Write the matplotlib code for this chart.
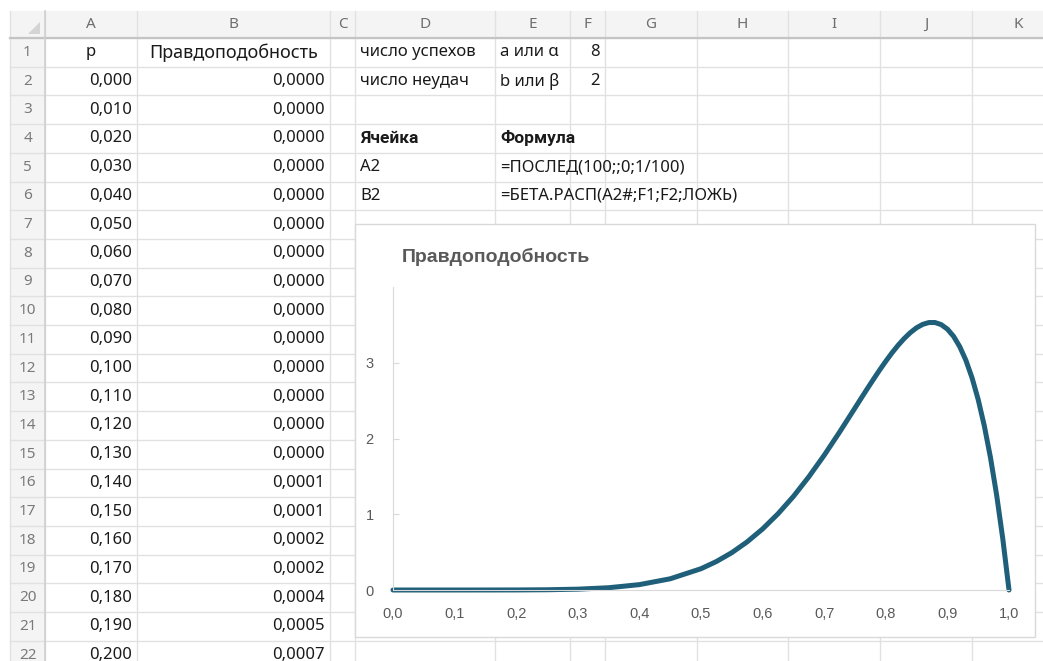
# -*- coding: utf-8 -*-
# Лист с таблицей бета-распределения и графиком правдоподобности
import matplotlib
matplotlib.use('Agg')
from matplotlib import pyplot as plt
from matplotlib.patches import Rectangle, Polygon

plt.rcParams['font.family'] = ['Noto Sans', 'DejaVu Sans']

# параметры распределения (F1, F2)
alfa = 8
beta = 2

# столбец A: p, строки 2..22
p_tabla = [0.000, 0.010, 0.020, 0.030, 0.040, 0.050, 0.060, 0.070, 0.080, 0.090,
           0.100, 0.110, 0.120, 0.130, 0.140, 0.150, 0.160, 0.170, 0.180, 0.190,
           0.200]
# столбец B: правдоподобность
verosim_tabla = [0.0000, 0.0000, 0.0000, 0.0000, 0.0000, 0.0000, 0.0000, 0.0000,
                 0.0000, 0.0000, 0.0000, 0.0000, 0.0000, 0.0000, 0.0001, 0.0001,
                 0.0002, 0.0002, 0.0004, 0.0005, 0.0007]

# точки кривой на графике
x_curva = [0.0, 0.05, 0.1, 0.15, 0.2, 0.25, 0.3, 0.35, 0.4, 0.45, 0.5, 0.525,
           0.55, 0.575, 0.6, 0.625, 0.65, 0.675, 0.7, 0.725, 0.75, 0.76, 0.77,
           0.78, 0.79, 0.8, 0.81, 0.82, 0.83, 0.84, 0.85, 0.86, 0.87, 0.88,
           0.89, 0.9, 0.91, 0.92, 0.93, 0.94, 0.95, 0.96, 0.97, 0.98, 0.99, 1.0]
y_curva = [0.0, 0.0, 0.0, 0.0001, 0.0007, 0.0033, 0.011, 0.030, 0.071, 0.148,
           0.281, 0.376, 0.493, 0.636, 0.806, 1.006, 1.235, 1.494, 1.779, 2.085,
           2.403, 2.531, 2.658, 2.782, 2.904, 3.020, 3.130, 3.231, 3.321, 3.399,
           3.462, 3.507, 3.531, 3.531, 3.503, 3.444, 3.349, 3.213, 3.033, 2.801,
           2.514, 2.164, 1.745, 1.250, 0.671, 0.0]

x_ticks = [0.0, 0.1, 0.2, 0.3, 0.4, 0.5, 0.6, 0.7, 0.8, 0.9, 1.0]
y_ticks = [0, 1, 2, 3]

columnas = ['', 'A', 'B', 'C', 'D', 'E', 'F', 'G', 'H', 'I', 'J', 'K']
bordes_col = [10, 45, 137, 330, 355, 495, 570, 605, 697, 788, 880, 972, 1064]

ANCHO, ALTO = 1043, 661
Y_CAB = 11          # верх строки заголовков
Y_FILA1 = 38        # верх первой строки
H_FILA = 28.7
N_FILAS = 22

GRIS_REJILLA = '#e1e1e1'
GRIS_CAB = '#f4f4f4'
TEXTO = '#1a1a1a'


def fila_centro(n):
    return Y_FILA1 + (n - 1) * H_FILA + H_FILA / 2


def celda(col, fila, texto, ha='left', **kw):
    i = columnas.index(col)
    if ha == 'left':
        x = bordes_col[i] + 5
    elif ha == 'right':
        x = bordes_col[i + 1] - 5
    else:
        x = (bordes_col[i] + bordes_col[i + 1]) / 2
    kw.setdefault('fontsize', 12)
    ax.text(x, fila_centro(fila), texto, ha=ha, va='center', color=TEXTO, **kw)


def coma(v, dec):
    return f'{v:.{dec}f}'.replace('.', ',')


fig = plt.figure(figsize=(ANCHO / 100, ALTO / 100), dpi=100)
ax = fig.add_axes([0, 0, 1, 1])
ax.set_xlim(0, ANCHO)
ax.set_ylim(ALTO, 0)
ax.axis('off')

# фон заголовков
ax.add_patch(Rectangle((bordes_col[0], Y_CAB), ANCHO, Y_FILA1 - Y_CAB,
                       facecolor=GRIS_CAB, edgecolor='none'))
ax.add_patch(Rectangle((bordes_col[0], Y_FILA1), bordes_col[1] - bordes_col[0],
                       ALTO, facecolor=GRIS_CAB, edgecolor='none'))

# сетка
for x in bordes_col:
    ax.plot([x, x], [Y_CAB, ALTO], color=GRIS_REJILLA, lw=1)
for n in range(N_FILAS + 1):
    y = Y_FILA1 + n * H_FILA
    ax.plot([bordes_col[0], ANCHO], [y, y], color=GRIS_REJILLA, lw=1)
ax.plot([bordes_col[0], ANCHO], [Y_FILA1, Y_FILA1], color='#c4c4c4', lw=1.6)
ax.plot([bordes_col[1], bordes_col[1]], [Y_CAB, ALTO], color='#d0d0d0', lw=1.2)
ax.add_patch(Polygon([[40, 22], [40, 34], [28, 34]], closed=True,
                     facecolor='#d4d4d4', edgecolor='none'))

for i, letra in enumerate(columnas[1:], start=1):
    ax.text((bordes_col[i] + bordes_col[i + 1]) / 2, (Y_CAB + Y_FILA1) / 2, letra,
            ha='center', va='center', fontsize=11, color='#6e6e6e')
for n in range(1, N_FILAS + 1):
    ax.text((bordes_col[0] + bordes_col[1]) / 2, fila_centro(n), str(n),
            ha='center', va='center', fontsize=11, color='#7a7a7a')

# таблица
celda('A', 1, 'p', ha='center')
celda('B', 1, 'Правдоподобность', ha='center', fontsize=13)
for k, (p, v) in enumerate(zip(p_tabla, verosim_tabla)):
    celda('A', k + 2, coma(p, 3), ha='right')
    celda('B', k + 2, coma(v, 4), ha='right')

negrita = dict(fontweight='bold', family=['Roboto', 'DejaVu Sans'], fontsize=12.5)
celda('D', 1, 'число успехов')
celda('E', 1, 'a или α')
celda('F', 1, str(alfa), ha='right')
celda('D', 2, 'число неудач')
celda('E', 2, 'b или β')
celda('F', 2, str(beta), ha='right')
celda('D', 4, 'Ячейка', **negrita)
celda('E', 4, 'Формула', **negrita)
celda('D', 5, 'A2')
celda('E', 5, '=ПОСЛЕД(100;;0;1/100)')
celda('D', 6, 'B2')
celda('E', 6, '=БЕТА.РАСП(A2#;F1;F2;ЛОЖЬ)')

# область диаграммы
ax.add_patch(Rectangle((355, 224), 680, 413, facecolor='white',
                       edgecolor='#d9d9d9', lw=1, zorder=5))
fig.text(402 / ANCHO, 1 - 257 / ALTO, 'Правдоподобность', ha='left', va='center',
         fontsize=14, fontweight='bold', color='#595959',
         family=['Liberation Sans', 'DejaVu Sans'])

graf = fig.add_axes([393 / ANCHO, 1 - 590 / ALTO, 616 / ANCHO, 303 / ALTO])
graf.set_facecolor('none')
graf.plot(x_curva, y_curva, color='#1f5f7a', lw=3.6, solid_joinstyle='round',
          solid_capstyle='round', clip_on=False)
graf.set_xlim(0, 1)
graf.set_ylim(0, 4)
graf.set_xticks(x_ticks)
graf.set_xticklabels([coma(v, 1) for v in x_ticks])
graf.set_yticks(y_ticks)
for lado in ('top', 'right'):
    graf.spines[lado].set_visible(False)
for lado in ('left', 'bottom'):
    graf.spines[lado].set_color('#d9d9d9')
graf.tick_params(axis='x', length=0, pad=12, labelsize=10.5, labelcolor='#595959')
graf.tick_params(axis='y', direction='in', length=4, color='#d9d9d9', pad=14,
                 labelsize=10.5, labelcolor='#595959')
for t in graf.get_xticklabels() + graf.get_yticklabels():
    t.set_family(['Liberation Sans', 'DejaVu Sans'])

fig.savefig('out.png', dpi=100)
